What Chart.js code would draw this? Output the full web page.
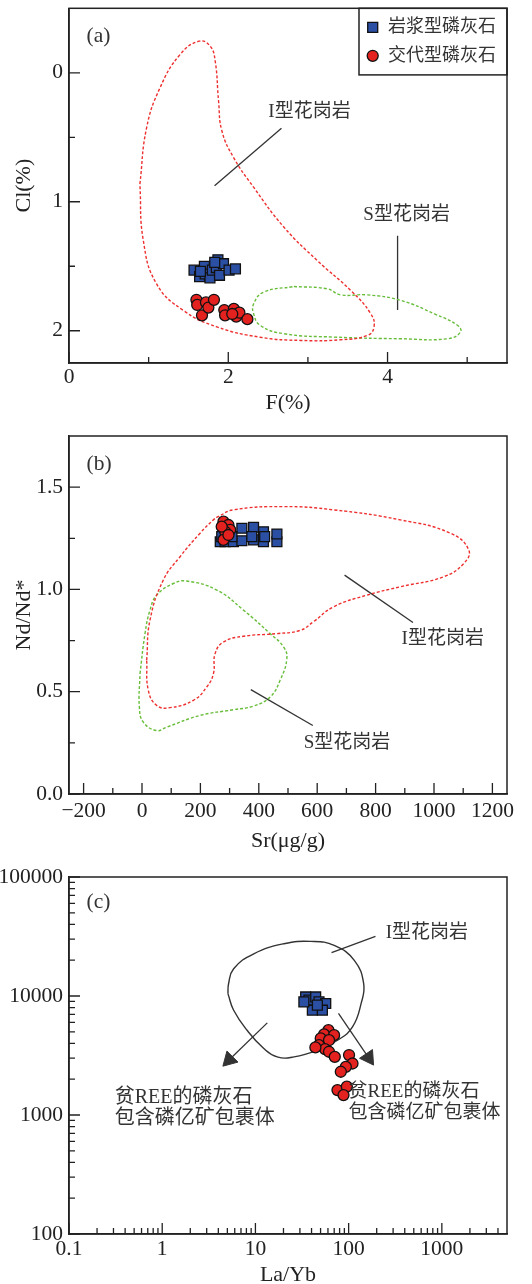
<!DOCTYPE html>
<html><head><meta charset="utf-8">
<script src="https://cdn.jsdelivr.net/npm/chart.js@4.4.0/dist/chart.umd.min.js"></script>
<style>html,body{margin:0;padding:0;background:#fff;}canvas{display:block;}</style>
</head><body>
<canvas id="ca" width="532" height="420"></canvas>
<canvas id="cb" width="532" height="436"></canvas>
<canvas id="cc" width="532" height="428"></canvas>
<script>
// ================= DATA =================
// Panel (a): F(%) vs Cl(%)
const aMagmaticF   = [1.57,1.64,1.70,1.71,1.77,1.80,1.85,1.87,1.89,1.94,2.01,2.09,1.83,1.65];
const aMagmaticCl  = [1.53,1.58,1.50,1.56,1.59,1.53,1.51,1.45,1.57,1.48,1.53,1.52,1.47,1.54];
const aMetasomF    = [1.60,1.61,1.67,1.72,1.75,1.82,1.95,1.96,2.07,2.10,2.14,2.24,2.05];
const aMetasomCl   = [1.76,1.80,1.88,1.78,1.82,1.76,1.84,1.88,1.83,1.89,1.86,1.91,1.87];
const aITypeF      = [0.89,0.975,1.143,1.395,1.635,1.773,1.836,1.878,1.92,2.067,2.32,2.70,3.118,3.538,3.79,3.83,3.748,3.41,2.91,2.40,1.857,1.437,1.10,0.933];
const aITypeCl     = [0.863,0.425,0.116,-0.142,-0.245,-0.206,-0.09,0.219,0.451,0.657,0.889,1.198,1.456,1.688,1.869,1.972,2.036,2.07,2.075,2.05,1.97,1.843,1.637,1.30];
const aSTypeF      = [2.824,3.244,3.412,3.748,4.168,4.588,4.882,4.916,4.756,4.168,3.328,2.697,2.403,2.319,2.319,2.445];
const aSTypeCl     = [1.657,1.675,1.722,1.722,1.765,1.869,1.959,2.01,2.062,2.062,2.049,2.023,1.959,1.869,1.791,1.70];
const aILeaderF    = [2.668,1.828];
const aILeaderCl   = [0.43,0.876];
const aSLeaderF    = [4.126,4.126];
const aSLeaderCl   = [1.263,1.84];
const aXTickLabels = [0,2,4];
const aXMinorTicks = [1,3,5];
const aYTickLabels = [0,1,2];
const aYMinorTicks = [0.5,1.5];

// Panel (b): Sr(μg/g) vs Nd/Nd*
const bMagmaticSr  = [268,285,313,342,382,416,462,462,416,382,342,376,420,308,273];
const bMagmaticNd  = [1.233,1.233,1.233,1.238,1.242,1.233,1.233,1.271,1.282,1.304,1.299,1.258,1.258,1.258,1.258];
const bMetasomSr   = [279,296,302,285,273,279,296];
const bMetasomNd   = [1.331,1.315,1.291,1.282,1.307,1.242,1.266];
const bITypeSr     = [16,27.4,73,130.3,198.9,244.6,261.7,313,484.6,656,884.6,1056,1119,1102,1033,884.6,770,656,587,541.7,461.7,347.4,278.9,250.3,244.6,221.7,176,96,50.3,21.7];
const bITypeNd     = [0.654,0.85,1.046,1.160,1.275,1.34,1.356,1.389,1.405,1.389,1.34,1.275,1.193,1.127,1.062,1.013,0.972,0.915,0.842,0.80,0.784,0.771,0.743,0.686,0.588,0.523,0.458,0.422,0.433,0.507];
const bSTypeSr     = [-6.9,10.3,27.4,50.3,107.4,153,256,347.4,438.9,484.6,496,473,438.9,381.7,313,198.9,84.6,50.3,4.6,-9];
const bSTypeNd     = [0.588,0.784,0.899,0.972,1.029,1.041,0.997,0.899,0.784,0.719,0.662,0.556,0.474,0.43,0.412,0.384,0.327,0.310,0.351,0.425];
const bILeaderSr   = [693.7,928];
const bILeaderNd   = [1.070,0.838];
const bSLeaderSr   = [372.6,585];
const bSLeaderNd   = [0.51,0.335];
const bXTickLabels = [-200,0,200,400,600,800,1000,1200];
const bXMinorTicks = [-100,100,300,500,700,900,1100];
const bYTickLabels = [0,0.5,1.0,1.5];
const bYMinorTicks = [0.25,0.75,1.25];

// Panel (c): La/Yb vs REE
const cMagmaticLaYb = [34.6,37.5,44.3,48.1,56.8,52.3,40.8,33.1,46.2];
const cMagmaticREE  = [9820,9230,9820,8920,8650,7600,7600,8920,8380];
const cMetasomLaYb  = [60.7,54.5,69.8,50.2,61.6,48.1,55.8,61.6,71.0,101,110,93.3,82.4,75.9,95.7,88.1,44.0];
const cMetasomREE   = [5160,4750,4690,4400,4250,3860,3580,3400,3080,3190,2710,2540,2310,1620,1730,1470,3700];
const cITypeLaYb    = [5.07,5.15,5.84,9.59,20.2,39.3,70.0,115,145,136,110,76.0,46.2,25.9,17.1,12.3,8.13,5.84];
const cITypeREE     = [10470,12680,16950,22640,27480,28770,26610,19910,12680,8630,5497,4247,3500,3077,3077,3614,5150,7590];
const cILeaderLaYb  = [194,65.6];
const cILeaderREE   = [31640,23100];
const cArrowLLaYb   = [13.4,5.24];
const cArrowLREE    = [5943,2911];
const cArrowRLaYb   = [77.8,163.5];
const cArrowRREE    = [7130,3034];
const cXTickLabels  = [0.1,1,10,100,1000];
const cYTickLabels  = [100,1000,10000,100000];

// ================= HELPERS =================
const SERIF = "'Liberation Serif','Times New Roman',serif";
const MIXED = "'Liberation Serif','Noto Sans CJK SC',sans-serif";
const BLUE = '#2b4fa3', RED = '#e3211f', IRED = '#ee2f2f', GREEN = '#68bd3a', INK = '#222', TXT = '#333';
const pts = (xs, ys) => xs.map((x, i) => ({x, y: ys[i]}));
const loop = (xs, ys) => { const p = pts(xs, ys); p.push({x: xs[0], y: ys[0]}); return p; };
function logMinor(major, max) {
  const out = [];
  major.forEach(d => { for (let k = 2; k <= 9; k++) { const v = +(d * k).toPrecision(6); if (v < max) out.push(v); } });
  return out;
}
const cXMinorTicks = logMinor(cXTickLabels, 5000);
const cYMinorTicks = logMinor(cYTickLabels, 100000);

function tickList(major, minor) {
  const all = major.map(v => ({value: v, isMain: true})).concat(minor.map(v => ({value: v, isMain: false})));
  all.sort((p, q) => p.value - q.value);
  return all;
}
const TICKSETS = {
  ax: tickList(aXTickLabels, aXMinorTicks), ay: tickList(aYTickLabels, aYMinorTicks),
  bx: tickList(bXTickLabels, bXMinorTicks), by: tickList(bYTickLabels, bYMinorTicks),
  cx: tickList(cXTickLabels, cXMinorTicks), cy: tickList(cYTickLabels, cYMinorTicks)
};
const setTicks = (key) => (scale) => { scale.ticks = TICKSETS[key].map(t => ({value: t.value, isMain: t.isMain})); };
const TL = 11, TLMINOR = 6;
function fitY(w) { return (s) => { s.width = w; s.paddingTop = 0; s.paddingBottom = 0; }; }
function fitX(h) { return (s) => { s.height = h; s.paddingLeft = 0; s.paddingRight = 0; }; }

function squares(label, data, r) { return {label, data, pointStyle: 'rect', pointRadius: r, pointHoverRadius: r, backgroundColor: BLUE, borderColor: '#111', borderWidth: 1.3}; }
function circles(label, data, r) { return {label, data, pointStyle: 'circle', pointRadius: r, pointHoverRadius: r, backgroundColor: RED, borderColor: '#111', borderWidth: 1.3}; }
function contour(data, color, dash) { return {data, showLine: true, borderColor: color, borderWidth: 1.4, borderDash: dash, tension: 0.45, pointRadius: 0, pointHoverRadius: 0, fill: false}; }
function leader(data) { return {data, showLine: true, borderColor: '#333', borderWidth: 1.3, tension: 0, pointRadius: 0, pointHoverRadius: 0}; }
function arrow(data, rot) { return {data, showLine: true, borderColor: '#333', borderWidth: 1.3, tension: 0, pointStyle: 'triangle', pointRadius: [0, 9], pointHoverRadius: [0, 9], pointRotation: [0, rot], pointBackgroundColor: '#333', pointBorderColor: '#333', pointBorderWidth: 1}; }

// frame + inward tick marks placed with the library's scales
function makeFrame(xKey, yKey) {
  return {
    id: 'frame',
    afterDraw(chart) {
      const ctx = chart.ctx, a = chart.chartArea;
      const xs = chart.scales.x, ys = chart.scales.y;
      ctx.save();
      ctx.setLineDash([]);
      ctx.strokeStyle = INK; ctx.lineWidth = 1.5;
      ctx.strokeRect(a.left, a.top, a.right - a.left, a.bottom - a.top);
      ctx.lineWidth = 1.3;
      ctx.beginPath();
      TICKSETS[xKey].forEach(t => {
        const px = xs.getPixelForValue(t.value);
        const len = t.isMain ? TL : TLMINOR;
        ctx.moveTo(px, a.bottom); ctx.lineTo(px, a.bottom - len);
      });
      TICKSETS[yKey].forEach(t => {
        const py = ys.getPixelForValue(t.value);
        const len = t.isMain ? TL : TLMINOR;
        ctx.moveTo(a.left, py); ctx.lineTo(a.left + len, py);
      });
      ctx.stroke();
      ctx.restore();
    }
  };
}
const notesPlugin = {
  id: 'notes',
  afterDatasetsDraw(chart, args, opts) {
    const {ctx, chartArea: a} = chart; const xs = chart.scales.x, ys = chart.scales.y;
    ctx.save(); ctx.textBaseline = 'middle';
    (opts.items || []).forEach(it => {
      ctx.font = it.font; ctx.fillStyle = it.color || TXT; ctx.textAlign = it.align || 'center';
      ctx.fillText(it.text, xs.getPixelForValue(it.x), ys.getPixelForValue(it.y));
    });
    if (opts.panel) {
      ctx.font = opts.panel.font; ctx.fillStyle = TXT; ctx.textAlign = 'center';
      ctx.fillText(opts.panel.text, a.left + opts.panel.dx, a.top + opts.panel.dy);
    }
    ctx.restore();
  }
};
const boxLegendPlugin = {
  id: 'boxLegend',
  afterDraw(chart, args, o) {
    if (!o.rows) return;
    const {ctx, chartArea: a} = chart;
    const x0 = a.right - o.width, y0 = a.top;
    ctx.save();
    ctx.fillStyle = '#fff'; ctx.fillRect(x0, y0, o.width, o.height);
    ctx.strokeStyle = INK; ctx.lineWidth = 1.5; ctx.strokeRect(x0, y0, o.width, o.height);
    o.rows.forEach((di, k) => {
      const ds = chart.data.datasets[di];
      const cx = x0 + o.symbolX, cy = y0 + o.firstY + k * o.gap;
      ctx.fillStyle = ds.backgroundColor; ctx.strokeStyle = ds.borderColor; ctx.lineWidth = ds.borderWidth;
      ctx.beginPath();
      if (ds.pointStyle === 'rect') { const h = o.square / 2; ctx.rect(cx - h, cy - h, o.square, o.square); }
      else { ctx.arc(cx, cy, o.circle, 0, Math.PI * 2); }
      ctx.fill(); ctx.stroke();
      ctx.fillStyle = TXT; ctx.font = o.font; ctx.textAlign = 'left'; ctx.textBaseline = 'middle';
      ctx.fillText(ds.label, x0 + o.textX, cy);
    });
    ctx.restore();
  }
};

Chart.defaults.font.family = SERIF;
Chart.defaults.color = INK;

function baseOptions(cfg) {
  const xk = cfg.key + 'x', yk = cfg.key + 'y';
  return {
    responsive: false, animation: false, devicePixelRatio: 1, events: [],
    layout: {padding: {left: 0, right: 25, top: cfg.top, bottom: 0}},
    plugins: {legend: {display: false}, tooltip: {enabled: false}, notes: cfg.notes, boxLegend: cfg.legend || {}},
    scales: {
      x: Object.assign({
        position: 'bottom',
        afterBuildTicks: setTicks(xk), afterFit: fitX(cfg.xH),
        grid: {display: false, drawTicks: true, tickLength: -TL}, border: {display: true, color: INK, width: 1.5},
        ticks: {autoSkip: false, maxRotation: 0, minRotation: 0, padding: cfg.xPad, color: INK, font: {family: SERIF, size: 21.5},
          callback: (v, i, t) => t[i].isMain ? cfg.xFmt(v) : ''},
        title: {display: true, text: cfg.xTitle, color: INK, font: {family: SERIF, size: 22}, padding: {top: 0, bottom: cfg.xTitlePad}}
      }, cfg.xScale),
      y: Object.assign({
        position: 'left',
        afterBuildTicks: setTicks(yk), afterFit: fitY(69),
        grid: {display: false, drawTicks: true, tickLength: -TL}, border: {display: true, color: INK, width: 1.5},
        ticks: {autoSkip: false, maxRotation: 0, minRotation: 0, padding: 17, color: INK, font: {family: SERIF, size: 21.5},
          callback: (v, i, t) => t[i].isMain ? cfg.yFmt(v) : ''},
        title: {display: !!cfg.yTitle, text: cfg.yTitle || '', color: INK, font: {family: SERIF, size: 22}, padding: {top: 11, bottom: 0}}
      }, cfg.yScale)
    }
  };
}
const CJK19 = '19px ' + MIXED;

// ---------- Chart (a) ----------
new Chart(document.getElementById('ca'), {
  type: 'scatter',
  data: {datasets: [
    squares('岩浆型磷灰石', pts(aMagmaticF, aMagmaticCl), 7),
    circles('交代型磷灰石', pts(aMetasomF, aMetasomCl), 5.5),
    contour(loop(aITypeF, aITypeCl), IRED, [3, 2]),
    contour(loop(aSTypeF, aSTypeCl), GREEN, [3, 2]),
    leader(pts(aILeaderF, aILeaderCl)),
    leader(pts(aSLeaderF, aSLeaderCl))
  ]},
  options: baseOptions({
    key: 'a', top: 7, xH: 57, xPad: 12.3, xTitlePad: 4,
    xFmt: v => String(v), yFmt: v => String(v),
    xTitle: 'F(%)', yTitle: 'Cl(%)',
    xScale: {type: 'linear', min: 0, max: 5.5},
    yScale: {type: 'linear', min: -0.5, max: 2.25, reverse: true},
    notes: {items: [
      {text: 'I型花岗岩', x: 3.02, y: 0.304, font: CJK19},
      {text: 'S型花岗岩', x: 4.24, y: 1.10, font: CJK19}
    ], panel: {text: '(a)', dx: 29.4, dy: 28, font: '21.5px ' + SERIF}},
    legend: {rows: [0, 1], width: 148, height: 66.6, symbolX: 13.7, firstY: 19, gap: 28.5, textX: 29, square: 10, circle: 5.5, font: '18px ' + MIXED}
  }),
  plugins: [notesPlugin, boxLegendPlugin, makeFrame('ax', 'ay')]
});

// ---------- Chart (b) ----------
new Chart(document.getElementById('cb'), {
  type: 'scatter',
  data: {datasets: [
    circles('交代型磷灰石', pts(bMetasomSr, bMetasomNd), 5.5),
    squares('岩浆型磷灰石', pts(bMagmaticSr, bMagmaticNd), 7),
    contour(loop(bITypeSr, bITypeNd), IRED, [3, 2]),
    contour(loop(bSTypeSr, bSTypeNd), GREEN, [3, 2]),
    leader(pts(bILeaderSr, bILeaderNd)),
    leader(pts(bSLeaderSr, bSLeaderNd))
  ]},
  options: baseOptions({
    key: 'b', top: 16, xH: 62, xPad: 15.6, xTitlePad: 2,
    xFmt: v => v < 0 ? '\u2212' + Math.abs(v) : String(v), yFmt: v => v.toFixed(1),
    xTitle: 'Sr(\u03bcg/g)', yTitle: 'Nd/Nd*',
    xScale: {type: 'linear', min: -250, max: 1250},
    yScale: {type: 'linear', min: 0, max: 1.75},
    notes: {items: [
      {text: 'I型花岗岩', x: 1030, y: 0.76, font: CJK19},
      {text: 'S型花岗岩', x: 702, y: 0.25, font: CJK19}
    ], panel: {text: '(b)', dx: 30, dy: 28.3, font: '21.5px ' + SERIF}}
  }),
  plugins: [notesPlugin, boxLegendPlugin, makeFrame('bx', 'by')]
});

// ---------- Chart (c) ----------
new Chart(document.getElementById('cc'), {
  type: 'scatter',
  data: {datasets: [
    squares('岩浆型磷灰石', pts(cMagmaticLaYb, cMagmaticREE), 7),
    circles('交代型磷灰石', pts(cMetasomLaYb, cMetasomREE), 5.5),
    contour(loop(cITypeLaYb, cITypeREE), '#333', []),
    leader(pts(cILeaderLaYb, cILeaderREE)),
    arrow(pts(cArrowLLaYb, cArrowLREE), 225),
    arrow(pts(cArrowRLaYb, cArrowRREE), 146)
  ]},
  options: baseOptions({
    key: 'c', top: 21, xH: 50, xPad: 13.4, xTitlePad: -4.7,
    xFmt: v => String(v), yFmt: v => String(v),
    xTitle: 'La/Yb', yTitle: '',
    xScale: {type: 'logarithmic', min: 0.1, max: 5000},
    yScale: {type: 'logarithmic', min: 100, max: 100000},
    notes: {items: [
      {text: 'I型花岗岩', x: 692, y: 33900, font: CJK19},
      {text: '贫REE的磷灰石', x: 0.309, y: 1406, font: '20px ' + MIXED, align: 'left'},
      {text: '包含磷亿矿包裹体', x: 0.309, y: 929, font: '20px ' + MIXED, align: 'left'},
      {text: '贫REE的磷灰石', x: 99.8, y: 1567, font: CJK19, align: 'left'},
      {text: '包含磷亿矿包裹体', x: 99.8, y: 1043, font: CJK19, align: 'left'}
    ], panel: {text: '(c)', dx: 29.4, dy: 25, font: '21.5px ' + SERIF}}
  }),
  plugins: [notesPlugin, boxLegendPlugin, makeFrame('cx', 'cy')]
});
</script>
</body></html>
